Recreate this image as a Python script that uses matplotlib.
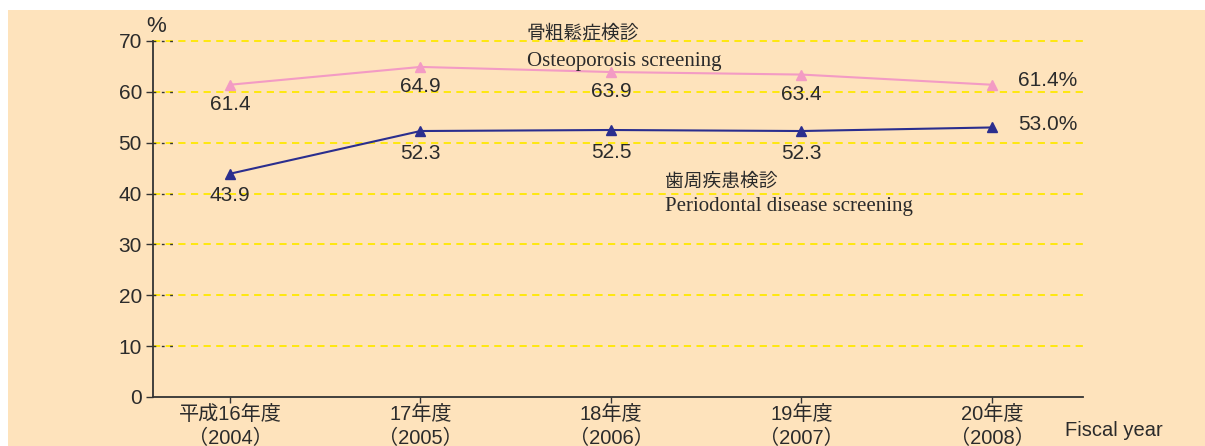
import matplotlib.pyplot as plt
from matplotlib.patches import Rectangle

plt.rcParams['font.family'] = ['Liberation Sans', 'Noto Sans CJK JP', 'DejaVu Sans']

# data
years = ['平成16年度\n（2004）', '17年度\n（2005）', '18年度\n（2006）', '19年度\n（2007）', '20年度\n（2008）']
osteo = [61.4, 64.9, 63.9, 63.4, 61.4]
perio = [43.9, 52.3, 52.5, 52.3, 53.0]
yticks = [0, 10, 20, 30, 40, 50, 60, 70]

bg = '#FEE3BC'
pink = '#F39BC4'
blue = '#2B2E8E'
grid_yellow = '#FFE800'
ink = '#2b2b2b'

fig = plt.figure(figsize=(12.05, 4.46), dpi=100)
fig.patch.set_facecolor('white')
fig.patches.append(Rectangle((8 / 1205, 0), 1, 1 - 10 / 446, transform=fig.transFigure,
                             facecolor=bg, edgecolor='none', zorder=-10))

ax = fig.add_axes([153 / 1205, 1 - 397 / 446, (1083 - 153) / 1205, (397 - 41) / 446])
ax.set_facecolor('none')

x = list(range(len(years)))
ax.set_xlim(-0.404, 4.478)
ax.set_ylim(0, 70)

# grid lines
for v in yticks[1:]:
    ax.axhline(v, color=grid_yellow, linestyle=(0, (4, 3)), linewidth=1.3, zorder=1, clip_on=False)
    ax.plot([0, 0.027], [v, v], transform=ax.get_yaxis_transform(), color='#333333',
            linestyle=(0, (2, 4)), linewidth=1, zorder=2, clip_on=False)

ax.plot(x, osteo, color=pink, marker='^', markersize=6.5, linewidth=1.5, zorder=3)
ax.plot(x, perio, color=blue, marker='^', markersize=6.5, linewidth=1.5, zorder=3)

for i in range(len(x) - 1):
    ax.annotate(f'{osteo[i]:.1f}', (x[i], osteo[i]), xytext=(0, -14), textcoords='offset points',
                ha='center', va='center', fontsize=15, color=ink)
    ax.annotate(f'{perio[i]:.1f}', (x[i], perio[i]), xytext=(0, -16), textcoords='offset points',
                ha='center', va='center', fontsize=15, color=ink)

ax.annotate(f'{osteo[-1]:.1f}%', (x[-1], osteo[-1]), xytext=(19, 3), textcoords='offset points',
            ha='left', va='center', fontsize=15, color=ink)
ax.annotate(f'{perio[-1]:.1f}%', (x[-1], perio[-1]), xytext=(19, 2), textcoords='offset points',
            ha='left', va='center', fontsize=15, color=ink)

# series labels
ax.text(1.557, 71.5, '骨粗鬆症検診', fontsize=13.5, family=['Noto Sans CJK JP'], color=ink,
        ha='left', va='center')
ax.text(1.557, 66.0, 'Osteoporosis screening', fontsize=15, family=['Liberation Serif'],
        color=ink, ha='left', va='center')
ax.text(2.283, 42.5, '歯周疾患検診', fontsize=13.5, family=['Noto Sans CJK JP'], color=ink,
        ha='left', va='center')
ax.text(2.283, 37.5, 'Periodontal disease screening', fontsize=15, family=['Liberation Serif'],
        color=ink, ha='left', va='center')

ax.set_yticks(yticks)
ax.set_yticklabels([str(v) for v in yticks], fontsize=15, color=ink)
ax.set_xticks(x)
ax.set_xticklabels(years, fontsize=14.5, color=ink, linespacing=1.3)
ax.tick_params(axis='y', direction='out', length=5, width=1, color='#333333', pad=3)
ax.tick_params(axis='x', direction='out', length=4, width=1, color='#333333', pad=2)

for s in ['top', 'right']:
    ax.spines[s].set_visible(False)
ax.spines['left'].set_color('#333333')
ax.spines['bottom'].set_color('#333333')
ax.spines['left'].set_linewidth(1.3)
ax.spines['bottom'].set_linewidth(1.3)

fig.text(146 / 1205, 1 - 27 / 446, '%', fontsize=16, color=ink, ha='left', va='center')
fig.text(1065 / 1205, 1 - 430 / 446, 'Fiscal year', fontsize=14.5, color=ink, ha='left', va='center')

fig.savefig('out.png', dpi=100, facecolor=fig.get_facecolor())
